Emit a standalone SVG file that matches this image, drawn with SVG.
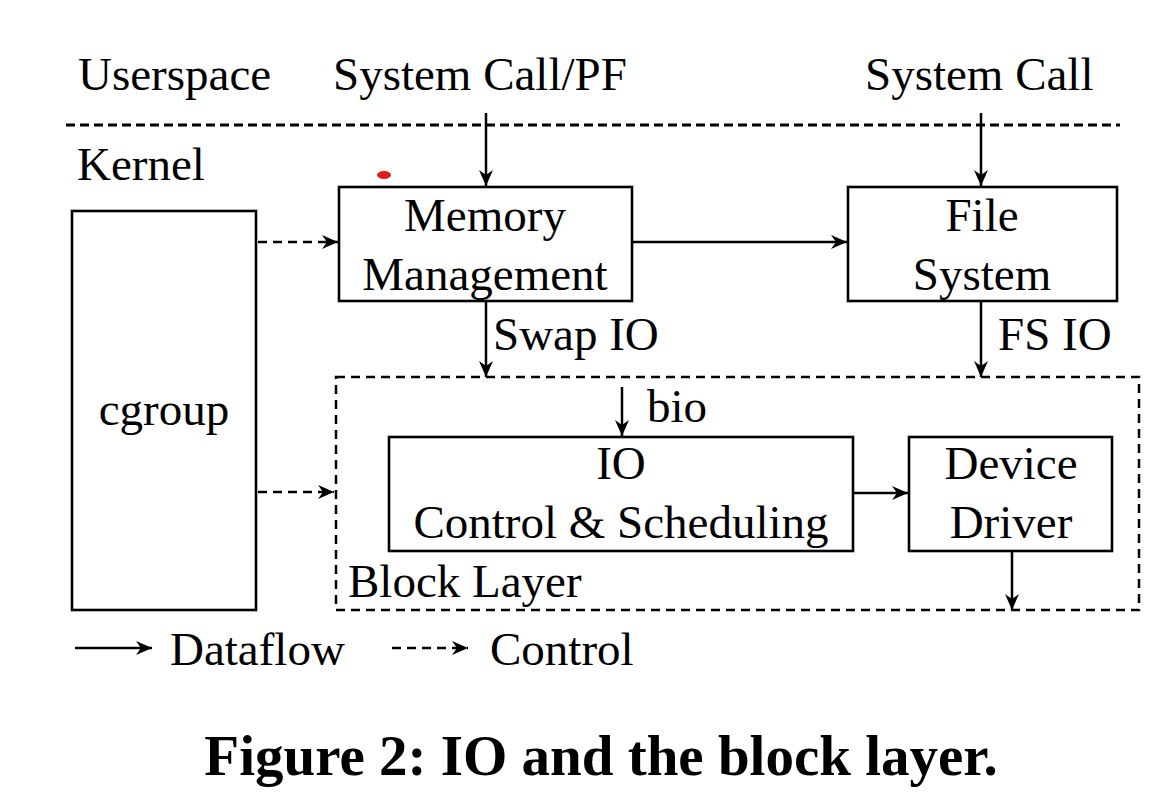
<svg xmlns="http://www.w3.org/2000/svg" width="1170" height="801" viewBox="0 0 1170 801">
<defs>
<marker id="ah" markerUnits="userSpaceOnUse" markerWidth="16" markerHeight="14" viewBox="0 0 16 14" refX="16" refY="7" orient="auto">
<path d="M0,0 L16,7 L0,14 L5,7 z" fill="#000"/>
</marker>
</defs>
<style>
text{font-family:"Liberation Serif","Times New Roman",serif;fill:#000;}
.t{font-size:47px;}
.c{text-anchor:middle;}
.box{fill:#fff;stroke:#000;stroke-width:2.6;}
.ln{stroke:#000;stroke-width:2.5;fill:none;}
.d{stroke-dasharray:9 6;}
.a{marker-end:url(#ah);}
.sep{stroke-width:3.2;stroke-dasharray:9 5;}
</style>
<rect width="1170" height="801" fill="#fff"/>
<g id="labels">
<text class="t" x="78" y="90">Userspace</text>
<text class="t" x="333" y="90">System Call/PF</text>
<text class="t" x="865" y="90">System Call</text>
<text class="t" x="77" y="180">Kernel</text>
</g>
<line class="ln d sep" x1="66" y1="125" x2="1120" y2="125"/>
<ellipse cx="384" cy="175" rx="7" ry="4" fill="#e3191c"/>
<g id="block-layer">
<rect x="336" y="377" width="803" height="233" class="ln d"/>
<text class="t" x="348" y="597">Block Layer</text>
</g>
<g id="cgroup">
<rect class="box" x="72" y="211" width="184" height="399"/>
<text class="t c" x="164" y="425">cgroup</text>
</g>
<g id="memory-management">
<rect class="box" x="339" y="187" width="293" height="114"/>
<text class="t c" x="485" y="231">Memory</text>
<text class="t c" x="485" y="290">Management</text>
</g>
<g id="file-system">
<rect class="box" x="848" y="187" width="269" height="114"/>
<text class="t c" x="982" y="231">File</text>
<text class="t c" x="982" y="290">System</text>
</g>
<g id="io-control">
<rect class="box" x="389" y="437" width="464" height="114"/>
<text class="t c" x="621" y="479">IO</text>
<text class="t c" x="621" y="538">Control &amp; Scheduling</text>
</g>
<g id="device-driver">
<rect class="box" x="909" y="437" width="203" height="114"/>
<text class="t c" x="1011" y="479">Device</text>
<text class="t c" x="1011" y="538">Driver</text>
</g>
<g id="connectors">
<line class="ln a" x1="486" y1="113" x2="486" y2="186"/>
<line class="ln a" x1="981" y1="113" x2="981" y2="186"/>
<line class="ln a" x1="632" y1="242" x2="847" y2="242"/>
<line class="ln d a" x1="258" y1="242" x2="338" y2="242"/>
<line class="ln d a" x1="258" y1="492" x2="334" y2="492"/>
<line class="ln a" x1="486" y1="302" x2="486" y2="377"/>
<line class="ln a" x1="981" y1="302" x2="981" y2="377"/>
<line class="ln a" x1="622" y1="387" x2="622" y2="436"/>
<line class="ln a" x1="853" y1="493" x2="908" y2="493"/>
<line class="ln a" x1="1012" y1="552" x2="1012" y2="610"/>
<text class="t" x="493" y="350">Swap IO</text>
<text class="t" x="998" y="350">FS IO</text>
<text class="t" x="647" y="422">bio</text>
</g>
<g id="legend">
<line class="ln a" x1="75" y1="648" x2="152" y2="648"/>
<text class="t" x="170" y="665">Dataflow</text>
<line class="ln d a" x1="392" y1="648" x2="468" y2="648"/>
<text class="t" x="490" y="665">Control</text>
</g>
<text x="601" y="775" text-anchor="middle" font-size="57" font-weight="bold">Figure 2: IO and the block layer.</text>
</svg>
